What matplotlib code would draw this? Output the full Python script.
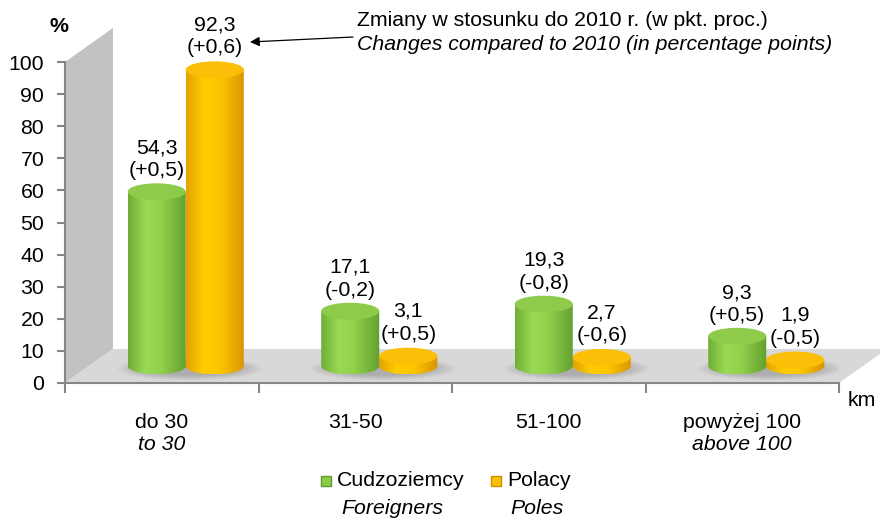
import numpy as np
import matplotlib
matplotlib.use("Agg")
import matplotlib.pyplot as plt
from matplotlib.patches import Polygon, Ellipse, PathPatch, Rectangle
from matplotlib.path import Path
from matplotlib.colors import LinearSegmentedColormap

plt.rcParams['font.family'] = ['Liberation Sans', 'DejaVu Sans']
plt.rcParams['font.size'] = 15.3

# ---- data ----
categories = ["do 30", "31-50", "51-100", "powyżej 100"]
categories_en = ["to 30", "", "", "above 100"]
foreigners = [54.3, 17.1, 19.3, 9.3]
poles = [92.3, 3.1, 2.7, 1.9]
foreigners_change = ["+0,5", "-0,2", "-0,8", "+0,5"]
poles_change = ["+0,6", "+0,5", "-0,6", "-0,5"]
yticks = list(range(0, 101, 10))

# ---- style / geometry ----
W, H = 880, 519
fig = plt.figure(figsize=(W / 100, H / 100), dpi=100)
ax = fig.add_axes([65 / W, 1 - 383 / H, (839 - 65) / W, (383 - 62) / H])
ax.set_xlim(-0.5, 3.5)
ax.set_ylim(0, 100)

DX, DY = 0.248, 10.6        # 3-D depth offset (x units, y units)
BASE = DY / 2               # bar base sits mid-depth
SHIFT = DX / 2
BW = 0.30                   # bar width
EH = 5.2                    # ellipse height in y units

wall_c = '#c2c2c2'
floor_c = '#d8d8d8'
axis_c = '#868686'

# side wall and floor
ax.add_patch(Polygon([(-0.5, 0), (-0.5, 100), (-0.5 + DX, 100 + DY), (-0.5 + DX, DY)],
                     closed=True, facecolor=wall_c, edgecolor='none', zorder=0.5, clip_on=False))
ax.add_patch(Polygon([(-0.5, 0), (3.5, 0), (3.5 + DX, DY), (-0.5 + DX, DY)],
                     closed=True, facecolor=floor_c, edgecolor='none', zorder=0.6, clip_on=False))

green_cmap = LinearSegmentedColormap.from_list(
    'g', [(0, '#6fae37'), (0.3, '#9bd954'), (0.55, '#92d24c'), (1.0, '#62a02e')])
yellow_cmap = LinearSegmentedColormap.from_list(
    'y', [(0, '#e4a200'), (0.3, '#ffcc00'), (0.6, '#fcc400'), (1.0, '#d89400')])
green_top = '#8fcb4a'
yellow_top = '#fbbf08'


def cylinder(xc, value, cmap, top_color, z):
    x0, x1 = xc - BW / 2, xc + BW / 2
    top = BASE + value
    t = np.linspace(np.pi, 2 * np.pi, 80)
    arc = np.column_stack([xc + BW / 2 * np.cos(t), BASE + EH / 2 * np.sin(t)])
    verts = np.vstack([[[x0, top]], arc, [[x1, top]], [[x0, top]]])
    codes = [Path.MOVETO] + [Path.LINETO] * (len(verts) - 2) + [Path.CLOSEPOLY]
    patch = PathPatch(Path(verts, codes), facecolor='none', edgecolor='none', zorder=z)
    ax.add_patch(patch)
    grad = np.linspace(0, 1, 256).reshape(1, -1)
    im = ax.imshow(grad, cmap=cmap, extent=[x0, x1, BASE - EH / 2, top],
                   aspect='auto', zorder=z, interpolation='bicubic', origin='lower')
    im.set_clip_path(patch)
    ax.add_patch(Ellipse((xc, top), BW, EH, facecolor=top_color, edgecolor='none',
                         zorder=z + 0.05, clip_on=False))
    return top + EH / 2


def shadow(xc):
    for k in range(6):
        ax.add_patch(Ellipse((xc, BASE - 0.8), 0.74 - k * 0.05, 7.2 - k * 0.6,
                             facecolor='#707070', edgecolor='none', alpha=0.08, zorder=0.8))


def fmt(v):
    return f"{v:.1f}".replace('.', ',')


for i in range(len(categories)):
    c = i + SHIFT
    shadow(c + 0.02)
    gx = c - BW / 2
    yx = c + BW / 2
    gtop = cylinder(gx, foreigners[i], green_cmap, green_top, 2)
    ytop = cylinder(yx, poles[i], yellow_cmap, yellow_top, 3)
    ax.annotate(f"{fmt(foreigners[i])}\n({foreigners_change[i]})", xy=(gx, gtop),
                xytext=(0, 3), textcoords='offset pixels', ha='center', va='bottom',
                linespacing=1.25, zorder=5, annotation_clip=False)
    ax.annotate(f"{fmt(poles[i])}\n({poles_change[i]})", xy=(yx, ytop),
                xytext=(0, 4), textcoords='offset pixels', ha='center', va='bottom',
                linespacing=1.25, zorder=5, annotation_clip=False)

# axes styling
for s in ['top', 'right']:
    ax.spines[s].set_visible(False)
for s in ['left', 'bottom']:
    ax.spines[s].set_color(axis_c)
    ax.spines[s].set_linewidth(1.5)
    ax.spines[s].set_zorder(4)
ax.set_yticks(yticks)
ax.set_yticklabels([str(v) for v in yticks])
ax.tick_params(axis='y', direction='out', length=6, width=1.5, color=axis_c, pad=9)
ax.set_xticks([-0.5, 0.5, 1.5, 2.5, 3.5])
ax.set_xticklabels([])
ax.tick_params(axis='x', direction='out', length=7, width=1.5, color=axis_c)
ax.patch.set_visible(False)

for i, (pl, en) in enumerate(zip(categories, categories_en)):
    ax.annotate(pl, xy=(i, 0), xycoords=('data', 'axes fraction'), xytext=(0, -39),
                textcoords='offset pixels', ha='center', va='center')
    if en:
        ax.annotate(en, xy=(i, 0), xycoords=('data', 'axes fraction'), xytext=(0, -61),
                    textcoords='offset pixels', ha='center', va='center', style='italic')

fig.text(862 / W, 1 - 400 / H, 'km', ha='center', va='center')
fig.text(59 / W, 1 - 27 / H, '%', ha='center', va='center', fontweight='bold')

# annotation note
fig.text(357 / W, 1 - 20 / H, 'Zmiany w stosunku do 2010 r. (w pkt. proc.)', ha='left', va='center')
fig.text(357 / W, 1 - 45 / H, 'Changes compared to 2010 (in percentage points)',
         ha='left', va='center', style='italic')
fig.add_artist(plt.Annotation('', xy=(250 / W, 1 - 42 / H), xycoords='figure fraction',
                              xytext=(353 / W, 1 - 37 / H), textcoords='figure fraction',
                              arrowprops=dict(arrowstyle='-|>', color='black', lw=0.9,
                                              mutation_scale=14, shrinkA=0, shrinkB=0)))

# legend (manual)
fig.add_artist(Rectangle((321 / W, 1 - 486 / H), 10 / W, 10 / H, transform=fig.transFigure,
                         facecolor='#8fcb4a', edgecolor='#5e9a2c', lw=1))
fig.text(337 / W, 1 - 481 / H, 'Cudzoziemcy', ha='left', va='center')
fig.text(392 / W, 1 - 508 / H, 'Foreigners', ha='center', va='center', style='italic')
fig.add_artist(Rectangle((491 / W, 1 - 486 / H), 10 / W, 10 / H, transform=fig.transFigure,
                         facecolor='#fbbf08', edgecolor='#c98f00', lw=1))
fig.text(507 / W, 1 - 481 / H, 'Polacy', ha='left', va='center')
fig.text(537 / W, 1 - 508 / H, 'Poles', ha='center', va='center', style='italic')

fig.savefig('out.png', dpi=100)
